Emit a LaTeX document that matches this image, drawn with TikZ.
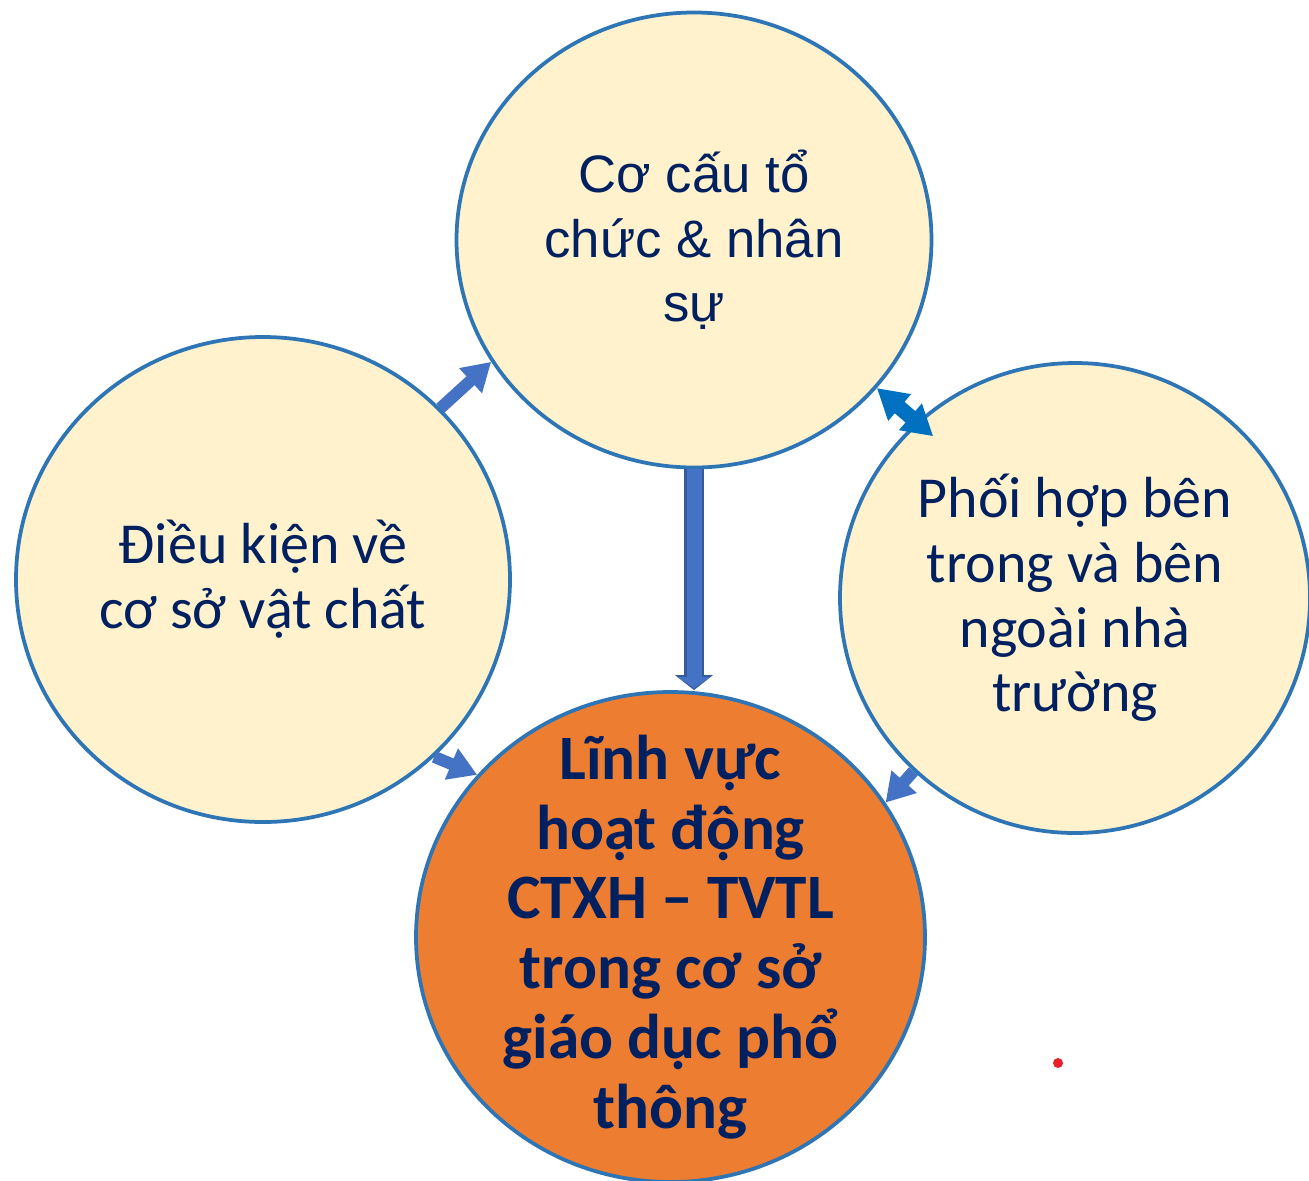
\documentclass[tikz,border=0pt]{standalone}
\usepackage{fontspec}
\setmainfont{Carlito}
\newfontfamily\arialfont{Liberation Sans}
\usetikzlibrary{shapes.geometric,arrows.meta}
\definecolor{circfill}{HTML}{FFF2CC}
\definecolor{circline}{HTML}{2E75B6}
\definecolor{orangefill}{HTML}{ED7D31}
\definecolor{navytext}{HTML}{002060}
\definecolor{arrowblue}{HTML}{4472C4}
\definecolor{darkblue}{HTML}{0070C0}
\definecolor{dotred}{HTML}{E8202A}

\begin{document}
\begin{tikzpicture}[main node/.style={ellipse, draw=circline, line width=0.075cm, fill=circfill, inner sep=0pt, align=center, text=navytext, font=\fontsize{33}{36.8}\selectfont},
    small arrow/.style={arrowblue, line width=0.24cm, -{Triangle[length=0.56cm,width=0.64cm]}}]
        \useasboundingbox (0,0) rectangle (26.18,-23.6);

        \node[main node, minimum width=9.5cm, minimum height=9.1cm, font=\arialfont\fontsize{30}{36.8}\selectfont] (ctc) at (13.88,-4.80) {Cơ cấu tổ\\chức \& nhân\\sự};
        \node[main node, minimum width=9.88cm, minimum height=9.7cm] (dk) at (5.26,-11.59) {Điều kiện về\\cơ sở vật chất};
        \node[main node, minimum width=9.4cm, minimum height=9.4cm] (ph) at (21.5,-11.96) {Phối hợp bên\\trong và bên\\ngoài nhà\\trường};
        \node[main node, fill=orangefill, inner sep=-1cm, minimum width=10.18cm, minimum height=9.8cm, font=\bfseries\fontsize{36}{39.7}\selectfont] (lv) at (13.41,-18.74) {Lĩnh vực\\hoạt động\\CTXH – TVTL\\trong cơ sở\\giáo dục phổ\\thông};
        \node[circle, fill=dotred, inner sep=0pt, minimum size=0.2cm] (dot) at (21.16,-21.26) {};

        \path[small arrow]
        (dk.44) edge (ctc.211)
        (dk.314) edge (lv.140)
        (ph.227) edge (lv.32);

        \draw[arrowblue!80!black, line width=0.4cm, -{Triangle[length=0.3cm,width=0.74cm]}] (ctc.south) -- (ctc.south |- lv.north);
        \draw[arrowblue, line width=0.3cm, -{Triangle[length=0.22cm,width=0.64cm]}, shorten >=0.04cm] (ctc.south) -- (ctc.south |- lv.north);
        \draw[darkblue, line width=0.3cm, {Triangle[length=0.6cm,width=0.66cm]}-{Triangle[length=0.6cm,width=0.66cm]}, shorten >=-0.44cm] (ctc.321) -- (ph.132);

    \end{tikzpicture}
\end{document}
